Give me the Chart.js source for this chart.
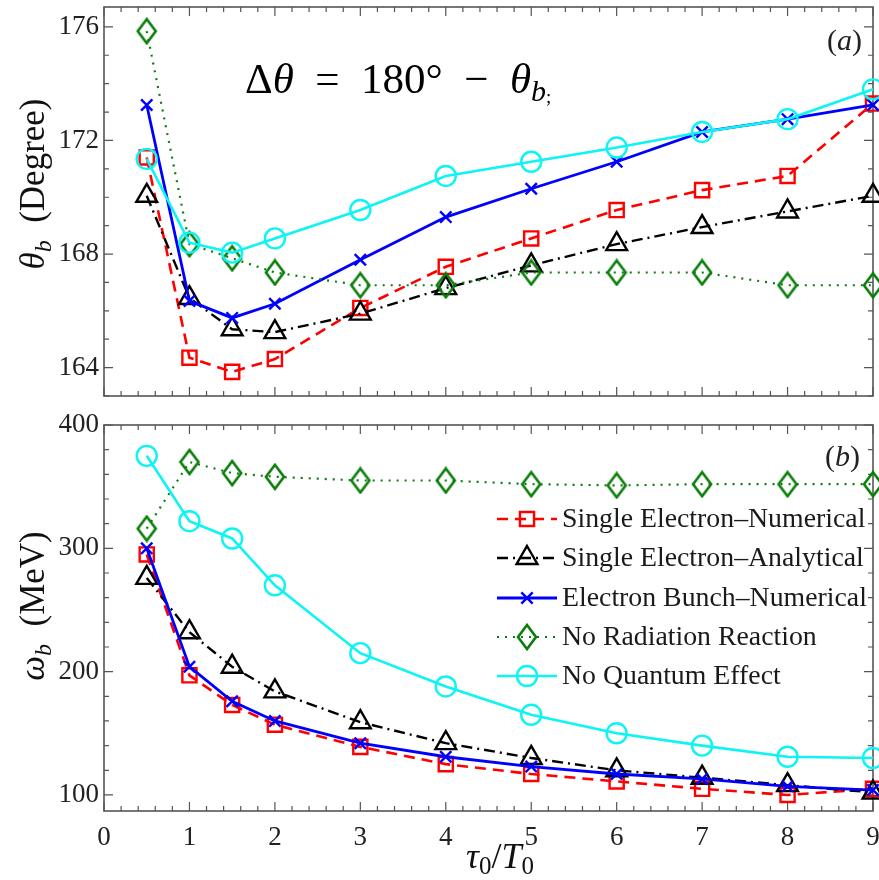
<!DOCTYPE html>
<html>
<head>
<meta charset="utf-8">
<script src="https://cdn.jsdelivr.net/npm/chart.js"></script>
<style>
  html, body { margin: 0; padding: 0; background: #fff; }
  #wrap { position: relative; width: 879px; height: 880px; overflow: hidden; }
  .box { position: absolute; left: 0; width: 879px; }
  #top { top: 0; height: 410px; }
  #bot { top: 410px; height: 470px; }
</style>
</head>
<body>
<div id="wrap">
  <div class="box" id="top"><canvas id="thetaChart"></canvas></div>
  <div class="box" id="bot"><canvas id="omegaChart"></canvas></div>
</div>
<script>
// x values (tau0 / T0)
const tau = [0.5, 1, 1.5, 2, 3, 4, 5, 6, 7, 8, 9];

const seriesNames = [
  'Single Electron\u2013Numerical',
  'Single Electron\u2013Analytical',
  'Electron Bunch\u2013Numerical',
  'No Radiation Reaction',
  'No Quantum Effect'
];

// panel (a): theta_b in degree
const thetaSingleNum = [171.4, 164.35, 163.85, 164.3, 166.1, 167.55, 168.55, 169.55, 170.25, 170.75, 173.3];
const thetaSingleAna = [170.05, 166.45, 165.35, 165.25, 165.9, 166.8, 167.6, 168.35, 168.95, 169.5, 170.05];
const thetaBunch     = [173.25, 166.35, 165.75, 166.25, 167.8, 169.3, 170.3, 171.25, 172.3, 172.75, 173.25];
const thetaNoRR      = [175.85, 168.35, 167.85, 167.35, 166.9, 166.9, 167.35, 167.35, 167.35, 166.9, 166.9];
const thetaNoQE      = [171.35, 168.4, 168.05, 168.55, 169.55, 170.75, 171.25, 171.75, 172.3, 172.75, 173.8];

// panel (b): omega_b in MeV
const omegaSingleNum = [295, 197, 173, 157, 139, 125, 117, 111, 105, 100, 105];
const omegaSingleAna = [276, 232, 204, 184, 159, 142, 130, 120, 114, 108, 102];
const omegaBunch     = [300, 204, 176, 160, 142, 131, 123, 117, 113, 107, 104];
const omegaNoRR      = [316, 370, 361, 358, 355, 355, 352, 351, 352, 352, 352];
const omegaNoQE      = [375, 322, 308, 270, 215, 188, 165, 150, 140, 131, 130];

// tick labels
const tauTicks = [0, 1, 2, 3, 4, 5, 6, 7, 8, 9];
const thetaTicks = [164, 168, 172, 176];
const omegaTicks = [100, 200, 300, 400];

const SERIF = '"Liberation Serif", "Times New Roman", serif';

// taller-than-wide diamond used for the green series
const diamond = document.createElement('canvas');
diamond.width = 22; diamond.height = 28;
(function() {
  const c = diamond.getContext('2d');
  c.strokeStyle = '#0a7d0a';
  c.lineWidth = 2.6;
  c.beginPath();
  c.moveTo(11, 2); c.lineTo(20, 14); c.lineTo(11, 26); c.lineTo(2, 14); c.closePath();
  c.stroke();
})();

const styles = [
  { color: '#ff0000', dash: [11, 7], width: 2.6, point: 'rect', radius: 10 },
  { color: '#000000', dash: [11, 5, 2, 5], width: 2.4, point: 'triangle', radius: 12 },
  { color: '#0000ff', dash: [], width: 2.8, point: 'crossRot', radius: 8 },
  { color: '#0a7d0a', dash: [2, 6], width: 2.2, point: diamond, radius: 11 },
  { color: '#0cf4f4', dash: [], width: 2.6, point: 'circle', radius: 10 }
];

function makeDatasets(values) {
  return values.map((vals, i) => ({
    label: seriesNames[i],
    data: tau.map((t, j) => ({ x: t, y: vals[j] })),
    borderColor: styles[i].color,
    borderDash: styles[i].dash,
    borderWidth: styles[i].width,
    pointStyle: styles[i].point,
    pointRadius: styles[i].radius,
    pointBorderColor: styles[i].color,
    pointBackgroundColor: 'rgba(0,0,0,0)',
    pointBorderWidth: 2.4,
    tension: 0,
    fill: false,
    clip: false,
    order: 5 - i
  }));
}

// text made of pieces: {t, size, italic, dy}
function drawRich(ctx, parts, x, y, align) {
  let total = 0;
  parts.forEach(p => {
    ctx.font = (p.italic ? 'italic ' : '') + p.size + 'px ' + SERIF;
    p.w = ctx.measureText(p.t).width;
    total += p.w;
  });
  let cx = align === 'center' ? x - total / 2 : (align === 'right' ? x - total : x);
  ctx.textAlign = 'left';
  ctx.textBaseline = 'alphabetic';
  parts.forEach(p => {
    ctx.font = (p.italic ? 'italic ' : '') + p.size + 'px ' + SERIF;
    ctx.fillText(p.t, cx, y + (p.dy || 0));
    cx += p.w;
  });
}

function yTitle(ctx, x, y, sym, unit) {
  ctx.save();
  ctx.translate(x, y);
  ctx.rotate(-Math.PI / 2);
  ctx.fillStyle = '#111';
  drawRich(ctx, [
    { t: sym, size: 35, italic: true },
    { t: 'b', size: 24, italic: true, dy: 7 },
    { t: '\u2002' + unit, size: 35 }
  ], 0, 0, 'center');
  ctx.restore();
}

// frame, inward ticks and extra drawing
const decor = {
  id: 'decor',
  beforeDatasetsDraw(chart, args, opts) {
    const { ctx, chartArea: a, scales: { x, y } } = chart;
    ctx.save();
    ctx.strokeStyle = '#555';
    ctx.lineWidth = 1.2;
    ctx.beginPath();
    for (let i = 0; i <= 45; i++) {
      const px = x.getPixelForValue(i * 0.2);
      const len = i % 5 === 0 ? 9 : 5;
      ctx.moveTo(px, a.bottom); ctx.lineTo(px, a.bottom - len);
      ctx.moveTo(px, a.top); ctx.lineTo(px, a.top + len);
    }
    const step = opts.yMinor;
    for (let v = Math.ceil(y.min / step) * step; v <= y.max + 1e-9; v += step) {
      const py = y.getPixelForValue(v);
      const len = opts.yMajor.includes(v) ? 9 : 5;
      ctx.moveTo(a.left, py); ctx.lineTo(a.left + len, py);
      ctx.moveTo(a.right, py); ctx.lineTo(a.right - len, py);
    }
    ctx.stroke();
    ctx.lineWidth = 1.6;
    ctx.strokeRect(a.left, a.top, a.width, a.height);
    ctx.restore();
  },
  afterDraw(chart, args, opts) {
    if (opts.extra) opts.extra(chart);
  }
};

function makeOptions(yMin, yMax, yTickVals, showX, pad, yMinor, extra) {
  return {
    responsive: true,
    maintainAspectRatio: false,
    animation: false,
    events: [],
    layout: { padding: pad, autoPadding: false },
    scales: {
      x: {
        type: 'linear',
        min: 0,
        max: 9,
        grid: { display: false, drawTicks: false },
        border: { display: false },
        ticks: {
          display: showX,
          padding: 11,
          color: '#222',
          font: { family: SERIF, size: 27 }
        },
        afterBuildTicks: s => { s.ticks = tauTicks.map(v => ({ value: v })); },
        afterFit: s => {
          s.height = showX ? 69 : 0;
          s.paddingLeft = 0; s.paddingRight = 0;
        }
      },
      y: {
        min: yMin,
        max: yMax,
        grid: { display: false, drawTicks: false },
        border: { display: false },
        ticks: {
          padding: 5,
          color: '#222',
          font: { family: SERIF, size: 27 }
        },
        afterBuildTicks: s => { s.ticks = yTickVals.map(v => ({ value: v })); },
        afterFit: s => {
          s.width = 104;
          s.paddingTop = 0; s.paddingBottom = 0;
        }
      }
    },
    plugins: {
      legend: { display: false },
      tooltip: { enabled: false },
      decor: { yMinor: yMinor, yMajor: yTickVals, extra: extra }
    }
  };
}

// panel (a)
new Chart(document.getElementById('thetaChart'), {
  type: 'line',
  data: { datasets: makeDatasets([thetaSingleNum, thetaSingleAna, thetaBunch, thetaNoRR, thetaNoQE]) },
  plugins: [decor],
  options: makeOptions(163, 176.7, thetaTicks, false, { left: 0, right: 6, top: 7, bottom: 14 }, 1, chart => {
    const ctx = chart.ctx;
    ctx.save();
    yTitle(ctx, 44, 184, '\u03b8', '(Degree)');
    ctx.fillStyle = '#000';
    drawRich(ctx, [
      { t: '\u0394', size: 43 },
      { t: '\u03b8', size: 43, italic: true },
      { t: '\u2002=\u2002180\u00b0\u2002\u2212\u2002', size: 43 },
      { t: '\u03b8', size: 43, italic: true },
      { t: 'b', size: 30, italic: true, dy: 8 },
      { t: ';', size: 19, dy: 10 }
    ], 245, 93, 'left');
    ctx.fillStyle = '#222';
    drawRich(ctx, [
      { t: '(', size: 30 }, { t: 'a', size: 30, italic: true }, { t: ')', size: 30 }
    ], 862, 50, 'right');
    ctx.restore();
  })
});

// panel (b)
new Chart(document.getElementById('omegaChart'), {
  type: 'line',
  data: { datasets: makeDatasets([omegaSingleNum, omegaSingleAna, omegaBunch, omegaNoRR, omegaNoQE]) },
  plugins: [decor],
  options: makeOptions(87, 400, omegaTicks, true, { left: 0, right: 6, top: 15, bottom: 0 }, 20, chart => {
    const ctx = chart.ctx;
    ctx.save();
    yTitle(ctx, 44, 196, '\u03c9', '(MeV)');
    ctx.fillStyle = '#111';
    drawRich(ctx, [
      { t: '\u03c4', size: 36, italic: true },
      { t: '0', size: 25, dy: 6 },
      { t: '/', size: 36 },
      { t: 'T', size: 36, italic: true },
      { t: '0', size: 25, dy: 6 }
    ], 500, 458, 'center');
    ctx.fillStyle = '#222';
    drawRich(ctx, [
      { t: '(', size: 30 }, { t: 'b', size: 30, italic: true }, { t: ')', size: 30 }
    ], 860, 56, 'right');

    // legend
    const rows = [109, 148, 188, 227, 266];
    chart.data.datasets.forEach((ds, i) => {
      const yy = rows[i];
      ctx.save();
      ctx.strokeStyle = ds.borderColor;
      ctx.lineWidth = ds.borderWidth;
      ctx.setLineDash(ds.borderDash);
      ctx.beginPath();
      ctx.moveTo(497, yy); ctx.lineTo(557, yy);
      ctx.stroke();
      ctx.setLineDash([]);
      ctx.strokeStyle = ds.pointBorderColor;
      ctx.fillStyle = 'rgba(0,0,0,0)';
      ctx.lineWidth = ds.pointBorderWidth;
      Chart.helpers.drawPoint(ctx, {
        pointStyle: ds.pointStyle, radius: ds.pointRadius, rotation: 0, borderWidth: ds.pointBorderWidth
      }, 527, yy);
      ctx.restore();
      ctx.fillStyle = '#1a1a1a';
      ctx.font = '27.8px ' + SERIF;
      ctx.textAlign = 'left';
      ctx.textBaseline = 'middle';
      ctx.fillText(ds.label, 562, yy + 1);
    });
    ctx.restore();
  })
});
</script>
</body>
</html>
